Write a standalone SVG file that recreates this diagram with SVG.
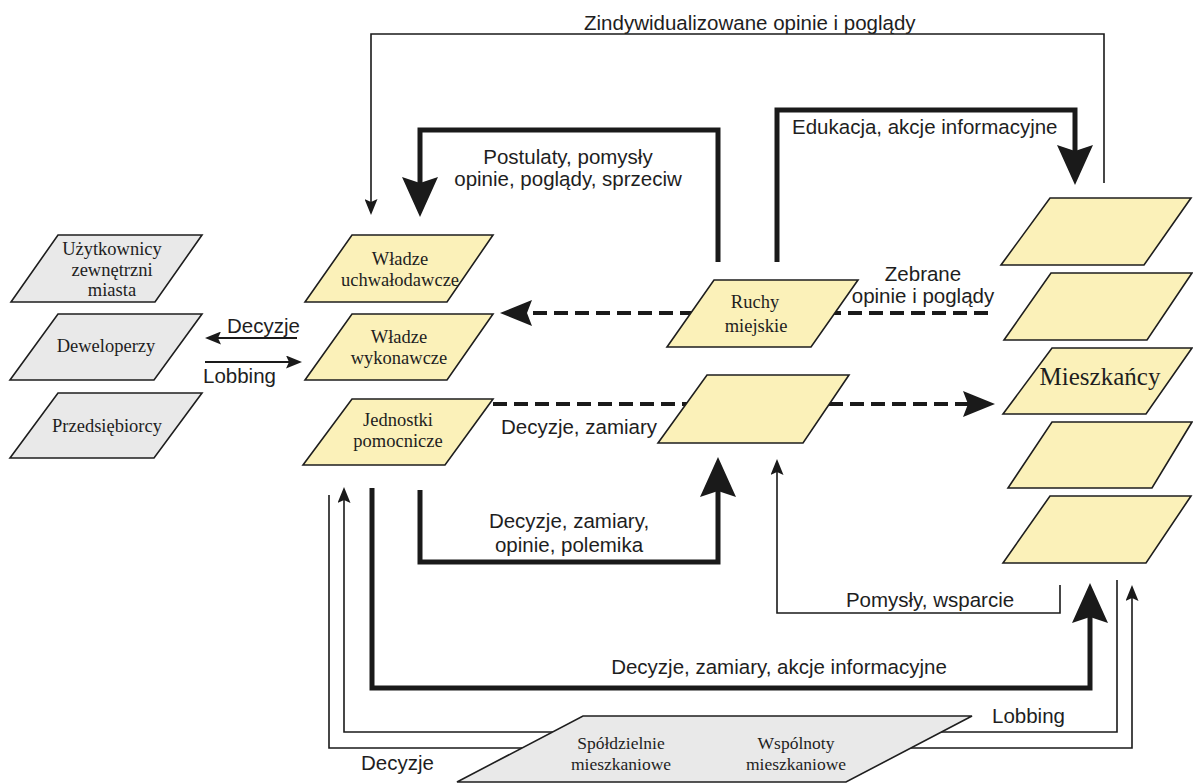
<svg xmlns="http://www.w3.org/2000/svg" width="1193" height="783" viewBox="0 0 1193 783">
<style>
.yel{fill:#fbf1b9;stroke:#1e1e1e;stroke-width:1.6;stroke-linejoin:miter}
.gry{fill:#e9e9e9;stroke:#1e1e1e;stroke-width:1.6}
.ser{font-family:"Liberation Serif","Times New Roman",serif;font-size:18.5px;fill:#1e1e1e;text-anchor:middle}
.big{font-size:25px}
.sm{font-size:17.5px}
.san{font-family:"Liberation Sans",Arial,sans-serif;font-size:20.5px;fill:#1e1e1e}
.mid{text-anchor:middle}
.end{text-anchor:end}
.thin{fill:none;stroke:#1a1a1a;stroke-width:1.6}
.thick{fill:none;stroke:#1a1a1a;stroke-width:5}
.dash{fill:none;stroke:#1a1a1a;stroke-width:4;stroke-dasharray:14 7}
</style>
<defs>
<marker id="aBig" viewBox="0 0 40 36" refX="10" refY="18" markerWidth="40" markerHeight="36" markerUnits="userSpaceOnUse" orient="auto">
<path d="M0,0 L40,18 L0,36 L6,18 z" fill="#1a1a1a"/>
</marker>
<marker id="aDash" viewBox="0 0 32 26" refX="8" refY="13" markerWidth="32" markerHeight="26" markerUnits="userSpaceOnUse" orient="auto">
<path d="M0,0 L32,13 L0,26 L5,13 z" fill="#1a1a1a"/>
</marker>
<marker id="aThin" viewBox="0 0 16 13" refX="6" refY="6.5" markerWidth="16" markerHeight="13" markerUnits="userSpaceOnUse" orient="auto">
<path d="M0,0 L16,6.5 L0,13 L3,6.5 z" fill="#1a1a1a"/>
</marker>
</defs>
<rect width="1193" height="783" fill="#ffffff"/>

<g id="connectors">
<path class="thin" d="M1104,183 V34 H371 V205" marker-end="url(#aThin)"/>
<path class="thick" d="M718,262 V130 H420 V187" marker-end="url(#aBig)"/>
<path class="thick" d="M777,262 V110 H1075 V155" marker-end="url(#aBig)"/>
<path class="dash" d="M988,313 H524" marker-end="url(#aDash)"/>
<path class="dash" d="M493,404 H971" marker-end="url(#aDash)"/>
<path class="thin" style="stroke-width:2" d="M297,338 H215" marker-end="url(#aThin)"/>
<path class="thin" style="stroke-width:2" d="M205,362 H292" marker-end="url(#aThin)"/>
<path class="thick" d="M420,490 V562 H718 V487" marker-end="url(#aBig)"/>
<path class="thin" d="M1060,585 V613 H777 V469" marker-end="url(#aThin)"/>
<path class="thick" d="M372,488 V688 H1090 V613" marker-end="url(#aBig)"/>
<path class="thin" d="M1117,580 V732 H344 V497" marker-end="url(#aThin)"/>
<path class="thin" d="M329,495 V748 H1132 V595" marker-end="url(#aThin)"/>
<text class="san" x="584" y="30">Zindywidualizowane opinie i poglądy</text>
<text class="san mid" x="568" y="164">Postulaty, pomysły</text>
<text class="san mid" x="568" y="186">opinie, poglądy, sprzeciw</text>
<text class="san" x="792" y="134">Edukacja, akcje informacyjne</text>
<text class="san mid" x="923" y="281">Zebrane</text>
<text class="san mid" x="923" y="303">opinie i poglądy</text>
<text class="san" x="227" y="333">Decyzje</text>
<text class="san" x="203" y="383">Lobbing</text>
<text class="san end" x="657" y="434">Decyzje, zamiary</text>
<text class="san mid" x="569" y="528">Decyzje, zamiary,</text>
<text class="san mid" x="569" y="552">opinie, polemika</text>
<text class="san mid" x="930" y="607">Pomysły, wsparcie</text>
<text class="san mid" x="779" y="674">Decyzje, zamiary, akcje informacyjne</text>
<text class="san" x="992" y="723">Lobbing</text>
<text class="san" x="361" y="770">Decyzje</text>
</g>

<g id="n_uzytkownicy">
<polygon class="gry" points="58,235 202,235 155,302 11,302"/>
<text class="ser" x="112" y="255">Użytkownicy</text>
<text class="ser" x="112" y="276">zewnętrzni</text>
<text class="ser" x="112" y="296">miasta</text>
</g>
<g id="n_deweloperzy">
<polygon class="gry" points="58,314 202,314 154,380 10,380"/>
<text class="ser" x="106" y="352">Deweloperzy</text>
</g>
<g id="n_przedsiebiorcy">
<polygon class="gry" points="58,393 202,393 154,458 10,458"/>
<text class="ser" x="107" y="432">Przedsiębiorcy</text>
</g>

<g id="n_uchwalodawcze">
<polygon class="yel" points="352,235 493,235 447,302 305,302"/>
<text class="ser" x="400" y="265">Władze</text>
<text class="ser" x="400" y="286">uchwałodawcze</text>
</g>
<g id="n_wykonawcze">
<polygon class="yel" points="352,314 493,314 447,380 305,380"/>
<text class="ser" x="399" y="343">Władze</text>
<text class="ser" x="399" y="364">wykonawcze</text>
</g>
<g id="n_jednostki">
<polygon class="yel" points="352,399 493,399 445,465 303,465"/>
<text class="ser" x="398" y="426">Jednostki</text>
<text class="ser" x="398" y="447">pomocnicze</text>
</g>

<g id="n_ruchy">
<polygon class="yel" points="714,280 858,280 811,347 667,347"/>
<text class="ser" x="755" y="308">Ruchy</text>
<text class="ser" x="756" y="332">miejskie</text>
</g>
<g id="n_empty">
<polygon class="yel" points="707,375 849,375 803,443 658,443"/>
</g>

<g id="n_mieszkancy">
<polygon class="yel" points="1050,198 1191,198 1144,265 1001,265"/>
<polygon class="yel" points="1051,273 1192,273 1147,340 1004,340"/>
<polygon class="yel" points="1052,348 1192,348 1146,414 1003,414"/>
<polygon class="yel" points="1052,422 1192,422 1152,488 1008,488"/>
<polygon class="yel" points="1050,496 1191,496 1146,563 1003,563"/>
<text class="ser big" x="1100" y="385">Mieszkańcy</text>
</g>

<g id="n_spoldzielnie">
<polygon class="gry" points="583,716 972,716 846,782 457,782"/>
<text class="ser sm" x="621" y="749">Spółdzielnie</text>
<text class="ser sm" x="621" y="770">mieszkaniowe</text>
<text class="ser sm" x="796" y="749">Wspólnoty</text>
<text class="ser sm" x="796" y="770">mieszkaniowe</text>
</g>
</svg>
